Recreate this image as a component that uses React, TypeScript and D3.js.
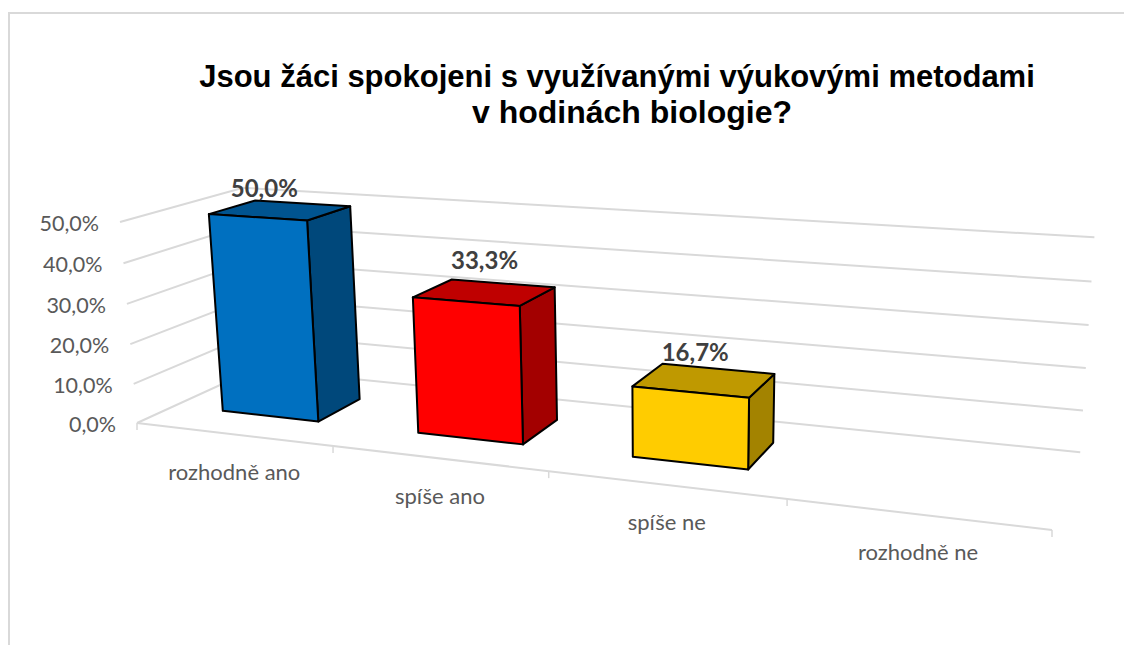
import React, { useEffect, useRef } from 'react'
import * as d3 from 'd3'

const titleLines = ['Jsou žáci spokojeni s využívanými výukovými metodami', 'v hodinách biologie?']
const categories = ['rozhodně ano', 'spíše ano', 'spíše ne', 'rozhodně ne']
const values = [50.0, 33.3, 16.7, null]
const barColors = ['#0070C0', '#FF0000', '#FFCC00', '#A5A5A5']
const yTicks = [0, 10, 20, 30, 40, 50]

// corners of the plot box on screen, and how strong the perspective is on each axis
const origin = [137, 423]
const xEnd = [1052, 530]
const yEnd = [120, 222]
const zEnd = [255, 369]
const persp = { x: -0.182, y: -0.031, z: 0.115 }

const project = (x: number, y: number, z: number): [number, number] => {
  const w = 1 + persp.x * x + persp.y * y + persp.z * z
  const at = (i: number) =>
    (origin[i] +
      x * ((1 + persp.x) * xEnd[i] - origin[i]) +
      y * ((1 + persp.y) * yEnd[i] - origin[i]) +
      z * ((1 + persp.z) * zEnd[i] - origin[i])) / w
  return [at(0), at(1)]
}

const fmt = (v: number) => v.toFixed(1).replace('.', ',') + '%'

export default function App() {
  const ref = useRef<SVGSVGElement>(null)

  useEffect(() => {
    const svg = d3.select(ref.current)
    svg.selectAll('*').remove()

    const xScale = d3.scaleBand().domain(categories).range([0.002, 1.002]).paddingInner(0.5).paddingOuter(0.25)
    const yScale = d3.scaleLinear().domain([0, 50]).range([0, 1])
    const zFront = 0.3
    const zBack = 0.69
    const line = d3.line()
    const gridColor = '#d9d9d9'

    // chart frame, bottom and right are cut off
    svg.append('path')
      .attr('d', 'M9,645V13H1124')
      .attr('fill', 'none').attr('stroke', gridColor).attr('stroke-width', 2)

    // the second line is a bit wider and sits off centre in the original
    svg.append('text')
      .attr('x', 617).attr('y', 86.5)
      .attr('text-anchor', 'middle')
      .style('font-family', '"Liberation Sans"').style('font-weight', 'bold').style('font-size', '31px')
      .attr('fill', '#000')
      .text(titleLines[0])
    svg.append('text')
      .attr('x', 632).attr('y', 123)
      .attr('text-anchor', 'middle')
      .attr('textLength', 320).attr('lengthAdjust', 'spacingAndGlyphs')
      .style('font-family', '"Liberation Sans"').style('font-weight', 'bold').style('font-size', '31px')
      .attr('fill', '#000')
      .text(titleLines[1])

    // wall gridlines
    yTicks.forEach(t => {
      const v = yScale(t)
      svg.append('path')
        .attr('d', line([project(0, v, 0), project(0, v, 1), project(1, v, 1)]))
        .attr('fill', 'none').attr('stroke', gridColor).attr('stroke-width', 2)

      const [px, py] = project(0, v, 0)
      svg.append('text')
        .attr('x', px - 21).attr('y', py + 9)
        .attr('text-anchor', 'end')
        .style('font-family', 'Lato').style('font-size', '21.5px')
        .attr('fill', '#595959')
        .text(fmt(t))
    })

    // floor front edge and its ticks
    svg.append('path')
      .attr('d', line([project(0, 0, 0), project(1, 0, 0)]))
      .attr('fill', 'none').attr('stroke', gridColor).attr('stroke-width', 2)
    d3.range(categories.length + 1).forEach(i => {
      const [tx, ty] = project(xScale.step() * i, 0, 0)
      svg.append('path')
        .attr('d', line([[tx, ty], [tx, ty + 7]]))
        .attr('fill', 'none').attr('stroke', gridColor).attr('stroke-width', 1.5)
    })

    categories.forEach(c => {
      const [cx, cy] = project(xScale(c)! + xScale.bandwidth() / 2, 0, 0)
      svg.append('text')
        .attr('x', cx).attr('y', cy + 45.5)
        .attr('text-anchor', 'middle')
        .style('font-family', 'Lato').style('font-size', '22px')
        .attr('fill', '#595959')
        .text(c)
    })

    // 3D bars
    const labelNudge = [[-16, -21], [0, -31], [-9, -27]]
    categories.forEach((c, i) => {
      const val = values[i]
      if (val == null) return
      const x0 = xScale(c)!
      const x1 = x0 + xScale.bandwidth()
      const top = yScale(val)
      const base = d3.rgb(barColors[i])
      const shade = (k: number) => d3.rgb(base.r * k, base.g * k, base.b * k).formatHex()
      const faces: [[number, number, number][], string][] = [
        [[[x1, 0, zFront], [x1, 0, zBack], [x1, top, zBack], [x1, top, zFront]], shade(0.64)],
        [[[x0, top, zFront], [x1, top, zFront], [x1, top, zBack], [x0, top, zBack]], shade(0.75)],
        [[[x0, 0, zFront], [x1, 0, zFront], [x1, top, zFront], [x0, top, zFront]], barColors[i]],
      ]
      faces.forEach(([pts, fill]) => {
        svg.append('path')
          .attr('d', line(pts.map(p => project(p[0], p[1], p[2])))! + 'Z')
          .attr('fill', fill)
          .attr('stroke', '#000').attr('stroke-width', 2).attr('stroke-linejoin', 'round')
      })
    })

    // data labels sit on top of everything
    categories.forEach((c, i) => {
      const val = values[i]
      if (val == null) return
      const [lx, ly] = project(xScale(c)! + xScale.bandwidth() / 2, yScale(val), (zFront + zBack) / 2)
      svg.append('text')
        .attr('x', lx + labelNudge[i][0]).attr('y', ly + labelNudge[i][1] + 8)
        .attr('text-anchor', 'middle')
        .style('font-family', 'Lato').style('font-weight', 'bold').style('font-size', '24px')
        .attr('fill', '#404040')
        .text(fmt(val))
    })
  }, [])

  return (
    <svg ref={ref} width={1124} height={645}
      style={{ position: 'absolute', left: 0, top: 0, background: '#fff' }} />
  )
}
